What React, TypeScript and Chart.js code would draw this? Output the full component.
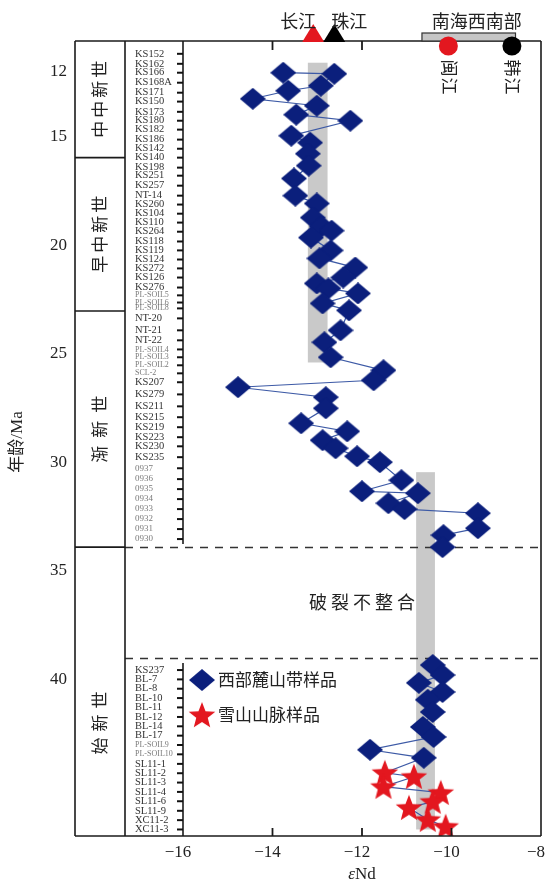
import React, { useEffect, useRef } from 'react';
import { Chart, registerables } from 'chart.js';
Chart.register(...registerables);

// ---------- data ----------
const upperSamples = ['KS152','KS162','KS166','KS168A','KS171','KS150','KS173','KS180','KS182','KS186','KS142','KS140','KS198','KS251','KS257','NT-14','KS260','KS104','KS110','KS264','KS118','KS119','KS124','KS272','KS126','KS276','PL-SOIL5','PL-SOIL6','PL-SOIL8','NT-20','NT-21','NT-22','PL-SOIL4','PL-SOIL3','PL-SOIL2','SCL-2','KS207','KS279','KS211','KS215','KS219','KS223','KS230','KS235','0937','0936','0935','0934','0933','0932','0931','0930'];
const upperSampleAges = [11.19,11.65,12.06,12.52,12.98,13.39,13.86,14.27,14.68,15.14,15.56,15.97,16.43,16.80,17.26,17.72,18.13,18.55,18.96,19.38,19.83,20.24,20.66,21.07,21.49,21.95,22.31,22.64,22.91,23.37,23.92,24.38,24.80,25.16,25.53,25.90,26.31,26.87,27.42,27.92,28.38,28.84,29.26,29.76,30.27,30.77,31.23,31.69,32.15,32.61,33.07,33.53];
const lowerSamples = ['KS237','BL-7','BL-8','BL-10','BL-11','BL-12','BL-14','BL-17','PL-SOIL9','PL-SOIL10','SL11-1','SL11-2','SL11-3','SL11-4','SL11-6','SL11-9','XC11-2','XC11-3'];
const lowerSampleAges = [39.56,39.99,40.42,40.85,41.28,41.72,42.15,42.58,43.01,43.44,43.88,44.31,44.74,45.17,45.60,46.04,46.47,46.90];

const westAgesUpper = [12.06,12.11,12.66,12.89,13.26,13.58,13.99,14.27,14.96,15.28,15.79,16.34,16.93,17.72,18.08,18.73,19.14,19.33,19.65,20.24,20.61,21.03,21.49,21.76,21.99,22.22,22.68,23.00,23.92,24.47,25.16,25.76,26.22,26.54,27.00,27.51,28.20,28.57,28.98,29.35,29.72,29.99,30.82,31.33,31.42,31.88,32.15,32.34,33.03,33.35,33.90];
const westEndUpper = [-13.76,-12.62,-12.92,-13.65,-14.44,-13.01,-13.47,-12.26,-13.58,-13.16,-13.21,-13.19,-13.52,-13.49,-13.01,-13.10,-12.90,-12.68,-13.14,-12.70,-12.95,-12.15,-12.42,-13.01,-12.75,-12.09,-12.88,-12.29,-12.48,-12.84,-12.70,-11.52,-11.74,-14.77,-12.81,-12.81,-13.36,-12.33,-12.88,-12.59,-12.11,-11.60,-11.12,-12.00,-10.75,-11.41,-11.05,-9.41,-9.41,-10.18,-10.20];
const westAgesLower = [39.33,39.79,40.15,40.57,40.93,41.49,42.18,42.64,43.23,43.60];
const westEndLower = [-10.42,-10.20,-10.73,-10.20,-10.53,-10.42,-10.64,-10.40,-11.82,-10.62];
const snowAges = [44.29,44.47,44.93,45.21,45.62,45.90,46.45,46.77];
const snowEnd = [-11.49,-10.84,-11.52,-10.24,-10.42,-10.95,-10.53,-10.13];

const ageTicks = [12, 15, 20, 25, 30, 35, 40];
const endTicks = [-16, -14, -12, -10, -8];
const innerTicks = [-14, -12, -10];

const epochNames = ['中中新世', '早中新世', '渐新世', '始新世'];
const epochBounds = [15.97, 23.03, 33.9];
const epochLabelAges = [13.28, 19.5, 28.47, 42.0];
const hiatusAges = [33.9, 39.0];

const bandLeft = [-13.21, -10.79];
const bandRight = [-12.77, -10.37];
const bandTop = [11.6, 30.45];
const bandBottom = [25.4, 46.9];

const riverNames = ['长江', '珠江', '闽江', '韩江'];
const riverEnd = [-13.09, -12.62, -10.07, -8.65];
const scsName = '南海西南部';
const scsRange = [-10.66, -8.57];

const legendNames = ['西部麓山带样品', '雪山山脉样品'];
const hiatusText = '破 裂 不 整 合';

// ---------- styles ----------
const SERIF = "'Liberation Serif', 'Noto Sans CJK SC', serif";
const CJK = "'Noto Sans CJK SC', 'Liberation Serif', sans-serif";
const NAVY = '#0b1f7c';
const RED = '#e3171f';
const LINE = '#3d5aa6';

function makeDiamond(w: number, h: number, color: string) {
  const c = document.createElement('canvas');
  c.width = w; c.height = h;
  const ctx = c.getContext('2d')!;
  ctx.fillStyle = color;
  ctx.beginPath();
  ctx.moveTo(w / 2, 0); ctx.lineTo(w, h / 2); ctx.lineTo(w / 2, h); ctx.lineTo(0, h / 2);
  ctx.closePath(); ctx.fill();
  return c;
}
function makeStar(r: number, color: string) {
  const s = Math.ceil(r * 2 + 2);
  const c = document.createElement('canvas');
  c.width = s; c.height = s;
  const ctx = c.getContext('2d')!;
  ctx.fillStyle = color;
  ctx.beginPath();
  for (let i = 0; i < 10; i++) {
    const rr = i % 2 === 0 ? r : r * 0.43;
    const a = -Math.PI / 2 + (i * Math.PI) / 5;
    const x = s / 2 + rr * Math.cos(a);
    const y = s / 2 + 1 + rr * Math.sin(a);
    if (i === 0) ctx.moveTo(x, y); else ctx.lineTo(x, y);
  }
  ctx.closePath(); ctx.fill();
  return c;
}

function rotatedChars(ctx: CanvasRenderingContext2D, text: string, x: number, y: number, angle: number, step: number) {
  ctx.save();
  ctx.translate(x, y);
  ctx.rotate(angle);
  ctx.textAlign = 'center';
  ctx.textBaseline = 'middle';
  const chars = Array.from(text);
  const total = step * (chars.length - 1);
  chars.forEach((ch, i) => ctx.fillText(ch, -total / 2 + i * step, 0));
  ctx.restore();
}

export default function App() {
  const ref = useRef<HTMLCanvasElement>(null);
  useEffect(() => {
    document.body.style.margin = '0';
    const diamondImg = makeDiamond(26, 22, NAVY);
    const starImg = makeStar(14, RED);

    const decor = {
      id: 'decor',
      beforeDatasetsDraw(chart: any) {
        const { ctx, chartArea: ca } = chart;
        const xs = chart.scales.x, ys = chart.scales.y;
        ctx.save();
        ctx.fillStyle = '#c9c9c9';
        for (let i = 0; i < bandLeft.length; i++) {
          const x1 = xs.getPixelForValue(bandLeft[i]);
          const x2 = xs.getPixelForValue(bandRight[i]);
          const y1 = ys.getPixelForValue(bandTop[i]);
          const y2 = ys.getPixelForValue(bandBottom[i]);
          ctx.fillRect(x1, y1, x2 - x1, y2 - y1);
        }
        ctx.strokeStyle = '#333';
        ctx.lineWidth = 1.5;
        ctx.setLineDash([8, 7]);
        hiatusAges.forEach((a) => {
          const y = Math.round(ys.getPixelForValue(a)) + 0.5;
          ctx.beginPath(); ctx.moveTo(125, y); ctx.lineTo(ca.right, y); ctx.stroke();
        });
        ctx.restore();
      },
      afterDraw(chart: any) {
        const { ctx, chartArea: ca } = chart;
        const xs = chart.scales.x, ys = chart.scales.y;
        const L = 75, C = 125;
        ctx.save();
        ctx.strokeStyle = '#1a1a1a';
        ctx.lineWidth = 1.6;
        const yTopGap = ys.getPixelForValue(hiatusAges[0]);
        const yBotGap = ys.getPixelForValue(hiatusAges[1]);
        const line = (x1: number, y1: number, x2: number, y2: number) => {
          ctx.beginPath(); ctx.moveTo(x1, y1); ctx.lineTo(x2, y2); ctx.stroke();
        };
        line(L, ca.top, ca.right, ca.top);
        line(L, ca.bottom, ca.right, ca.bottom);
        line(L, ca.top, L, ca.bottom);
        line(ca.right, ca.top, ca.right, ca.bottom);
        line(C, ca.top, C, ca.bottom);
        line(ca.left, ca.top, ca.left, yTopGap - 3);
        line(ca.left, yBotGap + 5, ca.left, ca.bottom);
        epochBounds.forEach((a) => {
          const y = ys.getPixelForValue(a);
          line(L, y, C, y);
        });
        // inner x ticks
        ctx.lineWidth = 1.8;
        innerTicks.forEach((v) => {
          const x = xs.getPixelForValue(v);
          line(x, ca.top, x, ca.top + 9);
          line(x, ca.bottom, x, ca.bottom - 8);
        });
        // sample ticks & labels
        const drawSamples = (names: string[], ages: number[]) => {
          names.forEach((n, i) => {
            const y = ys.getPixelForValue(ages[i]);
            ctx.lineWidth = 2;
            ctx.strokeStyle = '#111';
            line(ca.left - 6, y, ca.left, y);
            const minor = n.startsWith('PL-') || n.startsWith('SCL') || n.startsWith('09');
            ctx.font = minor ? (n.startsWith('09') ? `9px ${SERIF}` : `8px ${SERIF}`) : `10.5px ${SERIF}`;
            ctx.fillStyle = minor ? '#7a7a7a' : '#333';
            ctx.textAlign = 'left';
            ctx.textBaseline = 'middle';
            const w = ctx.measureText(n).width;
            const x = Math.min(135, ca.left - 7 - w);
            ctx.fillText(n, x, y);
          });
        };
        drawSamples(upperSamples, upperSampleAges);
        drawSamples(lowerSamples, lowerSampleAges);

        // age tick labels
        ctx.fillStyle = '#222';
        ctx.font = `17px ${SERIF}`;
        ctx.textAlign = 'right';
        ctx.textBaseline = 'middle';
        ageTicks.forEach((a) => ctx.fillText(String(a), 67, ys.getPixelForValue(a)));
        // x tick labels
        ctx.textAlign = 'center';
        ctx.textBaseline = 'middle';
        endTicks.forEach((v) => ctx.fillText('\u2212' + Math.abs(v), xs.getPixelForValue(v) - 5, 853));
        // x title
        ctx.textBaseline = 'alphabetic';
        ctx.font = `italic 17px ${SERIF}`;
        const eps = 'ε';
        const nd = 'Nd';
        const we = ctx.measureText(eps).width;
        ctx.font = `17px ${SERIF}`;
        const wn = ctx.measureText(nd).width;
        const cx = (ca.left + ca.right) / 2;
        const sx = cx - (we + wn) / 2;
        ctx.textAlign = 'left';
        ctx.font = `italic 17px ${SERIF}`;
        ctx.fillText(eps, sx, 879);
        ctx.font = `17px ${SERIF}`;
        ctx.fillText(nd, sx + we, 879);
        // y title
        ctx.save();
        ctx.translate(18, 442);
        ctx.rotate(-Math.PI / 2);
        ctx.textAlign = 'center';
        ctx.textBaseline = 'middle';
        ctx.font = `17px ${SERIF}`;
        ctx.fillText('年龄/Ma', 0, 0);
        ctx.restore();

        // epoch labels
        ctx.font = `17px ${CJK}`;
        ctx.fillStyle = '#222';
        const steps = [20, 20, 25, 23];
        epochNames.forEach((n, i) => {
          rotatedChars(ctx, n, 100, ys.getPixelForValue(epochLabelAges[i]), -Math.PI / 2, steps[i]);
        });

        // hiatus text
        ctx.font = `18px ${CJK}`;
        ctx.textAlign = 'center';
        ctx.textBaseline = 'middle';
        ctx.fillText(hiatusText, (ca.left + ca.right) / 2, (yTopGap + yBotGap) / 2);

        // legend
        const lx = 202;
        const ly1 = ys.getPixelForValue(39.79) + 5;
        const ly2 = ly1 + 35;
        ctx.drawImage(diamondImg, lx - 13, ly1 - 11);
        ctx.drawImage(starImg, lx - starImg.width / 2, ly2 - starImg.height / 2);
        ctx.font = `17px ${CJK}`;
        ctx.textAlign = 'left';
        ctx.fillStyle = '#222';
        ctx.fillText(legendNames[0], 218, ly1);
        ctx.fillText(legendNames[1], 218, ly2);

        // top reference markers
        const tx1 = xs.getPixelForValue(riverEnd[0]);
        const tx2 = xs.getPixelForValue(riverEnd[1]);
        const cx1 = xs.getPixelForValue(riverEnd[2]);
        const cx2 = xs.getPixelForValue(riverEnd[3]);
        const bx1 = xs.getPixelForValue(scsRange[0]);
        const bx2 = xs.getPixelForValue(scsRange[1]);
        ctx.fillStyle = '#c6c6c6';
        ctx.fillRect(bx1, ca.top - 8, bx2 - bx1, 8);
        ctx.strokeStyle = '#333';
        ctx.lineWidth = 1.2;
        ctx.strokeRect(bx1, ca.top - 8, bx2 - bx1, 8);
        const tri = (x: number, color: string) => {
          ctx.fillStyle = color;
          ctx.beginPath();
          ctx.moveTo(x, ca.top - 17);
          ctx.lineTo(x + 11, ca.top + 1);
          ctx.lineTo(x - 11, ca.top + 1);
          ctx.closePath(); ctx.fill();
        };
        tri(tx1, RED);
        tri(tx2, '#000');
        const circ = (x: number, color: string) => {
          ctx.fillStyle = color;
          ctx.beginPath();
          ctx.arc(x, ca.top + 5, 9.5, 0, Math.PI * 2);
          ctx.fill();
        };
        circ(cx1, RED);
        circ(cx2, '#000');
        ctx.fillStyle = '#222';
        ctx.font = `18px ${CJK}`;
        ctx.textBaseline = 'middle';
        ctx.textAlign = 'right';
        ctx.fillText(riverNames[0], tx1 + 3, 21);
        ctx.textAlign = 'left';
        ctx.fillText(riverNames[1], tx2 - 3, 21);
        ctx.textAlign = 'center';
        ctx.fillText(scsName, (bx1 + bx2) / 2 + 8, 21);
        ctx.font = `17px ${CJK}`;
        rotatedChars(ctx, riverNames[2], cx1 + 1, 77, Math.PI / 2, 18);
        rotatedChars(ctx, riverNames[3], cx2 + 1, 77, Math.PI / 2, 18);
        ctx.restore();
      },
    };

    const pts = (ends: number[], ages: number[]) => ends.map((v, i) => ({ x: v, y: ages[i] }));

    const chart = new Chart(ref.current!, {
      type: 'scatter',
      data: {
        datasets: [
          {
            label: 'upper-line',
            data: pts(westEndUpper, westAgesUpper),
            showLine: true, pointRadius: 0, borderColor: LINE, borderWidth: 1.2, order: 10,
          },
          {
            label: 'lower-line',
            data: [...pts(westEndLower, westAgesLower), ...pts(snowEnd, snowAges)],
            showLine: true, pointRadius: 0, borderColor: LINE, borderWidth: 1.2, order: 10,
          },
          {
            label: legendNames[0],
            data: [...pts(westEndUpper, westAgesUpper), ...pts(westEndLower, westAgesLower)],
            pointStyle: diamondImg as any, pointRadius: 12, order: 2,
          },
          {
            label: legendNames[1],
            data: pts(snowEnd, snowAges),
            pointStyle: starImg as any, pointRadius: 13, order: 1,
          },
        ] as any,
      },
      options: {
        responsive: false,
        animation: false,
        layout: { padding: { left: 183, right: 8, top: 41, bottom: 46 } },
        scales: {
          x: { type: 'linear', min: -16, max: -8, display: false },
          y: { type: 'linear', min: 10.6, max: 47.2, reverse: true, display: false },
        },
        plugins: { legend: { display: false }, tooltip: { enabled: false } },
      },
      plugins: [decor],
    });
    return () => chart.destroy();
  }, []);
  return (
    <div style={{ width: 555, height: 882 }}>
      <canvas ref={ref} width={555} height={882} style={{ display: 'block' }} />
    </div>
  );
}
